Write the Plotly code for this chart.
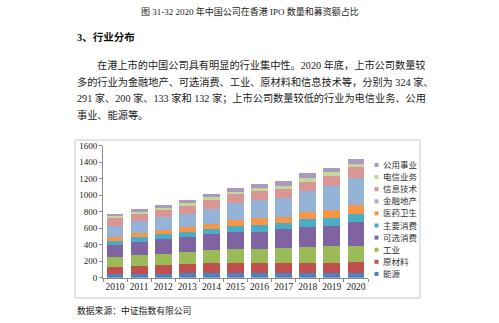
import plotly.graph_objects as go

W, H = 499, 323

years = ["2010", "2011", "2012", "2013", "2014", "2015", "2016", "2017", "2018", "2019", "2020"]

series_names = ["能源", "原材料", "工业", "可选消费", "主要消费", "医药卫生",
                "金融地产", "信息技术", "电信业务", "公用事业"]

energy      = [44, 48, 48, 52, 52, 52, 52, 52, 52, 52, 52]
materials   = [85, 97, 110, 114, 122, 122, 130, 122, 130, 130, 133]
industry    = [126, 130, 133, 145, 157, 169, 161, 182, 194, 202, 200]
discretion  = [141, 157, 174, 178, 202, 214, 214, 230, 242, 246, 291]
staples     = [52, 65, 60, 65, 61, 69, 81, 73, 89, 89, 93]
health      = [49, 48, 53, 60, 60, 73, 81, 80, 93, 101, 113]
financials  = [129, 146, 153, 162, 182, 210, 222, 223, 250, 291, 324]
info_tech   = [93, 81, 85, 97, 105, 105, 109, 109, 114, 125, 132]
telecom     = [28, 28, 28, 32, 33, 28, 33, 40, 40, 41, 41]
utilities   = [25, 32, 33, 32, 40, 41, 48, 61, 61, 56, 60]

series_values = [energy, materials, industry, discretion, staples, health,
                 financials, info_tech, telecom, utilities]

colors = ["#4F81BD", "#C0504D", "#9BBB59", "#8064A2", "#4BACC6", "#F79646",
          "#95B3D7", "#D99694", "#C3D69B", "#A99BBD"]

y_ticks = [0, 200, 400, 600, 800, 1000, 1200, 1400, 1600]

caption = "图 31-32 2020 年中国公司在香港 IPO 数量和募资额占比"
heading = "3、行业分布"
para_lines = [
    "在港上市的中国公司具有明显的行业集中性。2020 年底，上市公司数量较",
    "多的行业为金融地产、可选消费、工业、原材料和信息技术等，分别为 324 家、",
    "291 家、200 家、133 家和 132 家；上市公司数量较低的行业为电信业务、公用",
    "事业、能源等。",
]
source = "数据来源：中证指数有限公司"

FONT = "Liberation Serif, Noto Sans CJK SC, serif"
CJK = "Liberation Serif, Noto Sans CJK SC"


def px(x):
    return x / W


def py(y):
    return 1 - y / H


fig = go.Figure()
for name, vals, col in zip(series_names, series_values, colors):
    fig.add_trace(go.Bar(x=years, y=vals, name=name, marker=dict(color=col, line=dict(width=0)),
                         showlegend=False))

fig.update_layout(
    width=W, height=H,
    margin=dict(l=0, r=0, t=0, b=0),
    paper_bgcolor="white", plot_bgcolor="white",
    barmode="stack", bargap=0.3,
    font=dict(family=FONT, size=9, color="#222"),
    xaxis=dict(domain=[px(103), px(368)], showline=True, linecolor="#8c8c8c", linewidth=1,
               ticks="outside", ticklen=3, tickcolor="#8c8c8c", tickson="boundaries",
               tickangle=0, automargin=False,
               showgrid=False, tickfont=dict(family=FONT, size=9.5, color="#222")),
    yaxis=dict(domain=[py(277.7), py(145.7)], range=[0, 1600], tickvals=y_ticks,
               showline=True, linecolor="#8c8c8c", linewidth=1, ticks="outside", ticklen=3,
               tickcolor="#8c8c8c", showgrid=False, zeroline=False, automargin=False,
               tickfont=dict(family=FONT, size=9, color="#222")),
)

# chart frame
fig.add_shape(type="rect", xref="paper", yref="paper", x0=px(75), x1=px(420),
              y0=py(298), y1=py(140), line=dict(color="#c8c8c8", width=1))

# manual legend (top: last series)
for i, (name, col) in enumerate(zip(series_names[::-1], colors[::-1])):
    yc = 165 + 12.1 * i
    fig.add_shape(type="rect", xref="paper", yref="paper", x0=px(374.5), x1=px(378.5),
                  y0=py(yc + 2), y1=py(yc - 2), line=dict(width=0), fillcolor=col)
    fig.add_annotation(xref="paper", yref="paper", x=px(380.5), y=py(yc), text=name,
                       showarrow=False, xanchor="left", yanchor="middle",
                       font=dict(family=CJK, size=8.5, color="#333"))

# page texts
fig.add_annotation(xref="paper", yref="paper", x=px(250), y=py(12), text=caption,
                   showarrow=False, xanchor="center", yanchor="middle",
                   font=dict(family=CJK, size=9, color="#222"))
fig.add_annotation(xref="paper", yref="paper", x=px(75), y=py(37), text="<b>" + heading + "</b>",
                   showarrow=False, xanchor="left", yanchor="middle",
                   font=dict(family=CJK, size=10.5, color="#111"))
line_y = [65, 81.5, 98, 114.5]
line_x = [95, 75, 75, 75]
for t, yy, xx in zip(para_lines, line_y, line_x):
    fig.add_annotation(xref="paper", yref="paper", x=px(xx), y=py(yy), text=t,
                       showarrow=False, xanchor="left", yanchor="middle",
                       font=dict(family=CJK, size=10.2, color="#222"))
fig.add_annotation(xref="paper", yref="paper", x=px(75), y=py(310.5), text=source,
                   showarrow=False, xanchor="left", yanchor="middle",
                   font=dict(family=CJK, size=8.8, color="#222"))

fig.write_html("out.html")
